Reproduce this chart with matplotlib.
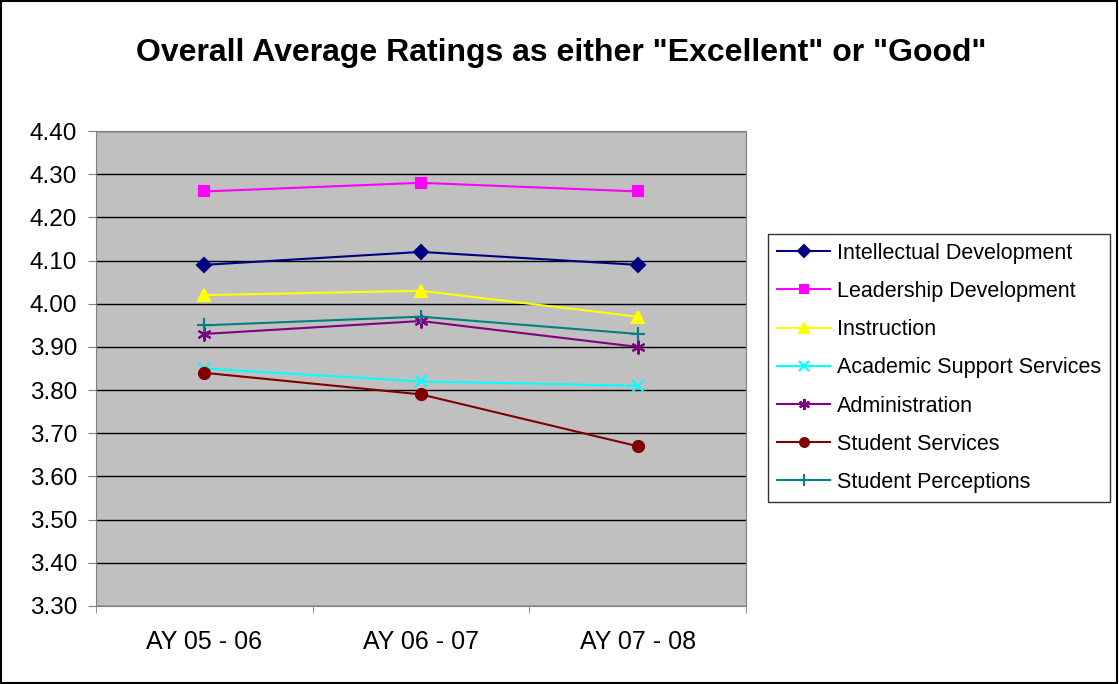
import matplotlib
matplotlib.use('Agg')
import matplotlib.pyplot as plt
from matplotlib.patches import Rectangle

plt.rcParams['font.family'] = ['Liberation Sans', 'DejaVu Sans']

years = ['AY 05 - 06', 'AY 06 - 07', 'AY 07 - 08']

intellectual = [4.09, 4.12, 4.09]
leadership = [4.26, 4.28, 4.26]
instruction = [4.02, 4.03, 3.97]
academic = [3.85, 3.82, 3.81]
administration = [3.93, 3.96, 3.90]
student_services = [3.84, 3.79, 3.67]
perceptions = [3.95, 3.97, 3.93]

series = [
    ('Intellectual Development', intellectual, '#000080', 'D', 7.5),
    ('Leadership Development', leadership, '#FF00FF', 's', 7.5),
    ('Instruction', instruction, '#FFFF00', '^', 9),
    ('Academic Support Services', academic, '#00FFFF', 'x', 8.5),
    ('Administration', administration, '#800080', (6, 2, 0), 10),
    ('Student Services', student_services, '#800000', 'o', 8),
    ('Student Perceptions', perceptions, '#008080', '+', 10),
]

fig = plt.figure(figsize=(11.19, 6.84), dpi=100)
ax = fig.add_axes([96/1119, 78/684, 650/1119, 475/684])
ax.set_facecolor('#C0C0C0')

x = range(len(years))
for name, vals, col, mk, ms in series:
    ax.plot(x, vals, color=col, marker=mk, markersize=ms, linewidth=1.5,
            markeredgewidth=1.5, label=name)

ax.set_xlim(-0.5, 2.5)
ax.set_ylim(3.30, 4.40)
ax.set_yticks([3.30 + 0.1*i for i in range(12)])
ax.set_yticklabels(['%.2f' % (3.30 + 0.1*i) for i in range(12)], fontsize=17.5)
ax.yaxis.grid(True, color='black', linewidth=1)
ax.set_axisbelow(True)

ax.set_xticks(list(x))
ax.set_xticklabels(years, fontsize=18)
ax.tick_params(axis='x', which='major', length=0, pad=17)
ax.set_xticks([-0.5, 0.5, 1.5, 2.5], minor=True)
ax.tick_params(axis='x', which='minor', length=5, direction='out', color='#808080')
ax.tick_params(axis='y', length=6, direction='out', color='#808080', pad=7.5)
for sp in ax.spines.values():
    sp.set_color('#808080')

fig.suptitle('Overall Average Ratings as either "Excellent" or "Good"',
             fontsize=23, fontweight='bold', y=0.945, x=0.502)

leg = ax.legend(loc='upper left', bbox_to_anchor=(768/1119, 1 - 234/684),
                bbox_transform=fig.transFigure, fontsize=15.5, frameon=True,
                fancybox=False, edgecolor='black', borderaxespad=0,
                handlelength=2.5, labelspacing=0.8, borderpad=0.4,
                handletextpad=0.3, markerscale=0.8)
leg.get_frame().set_linewidth(1)

fig.patches.append(Rectangle((0.001, 0.001), 0.997, 0.997, transform=fig.transFigure,
                             fill=False, edgecolor='black', linewidth=1.5))

fig.savefig('out.png', dpi=100, facecolor='white')
